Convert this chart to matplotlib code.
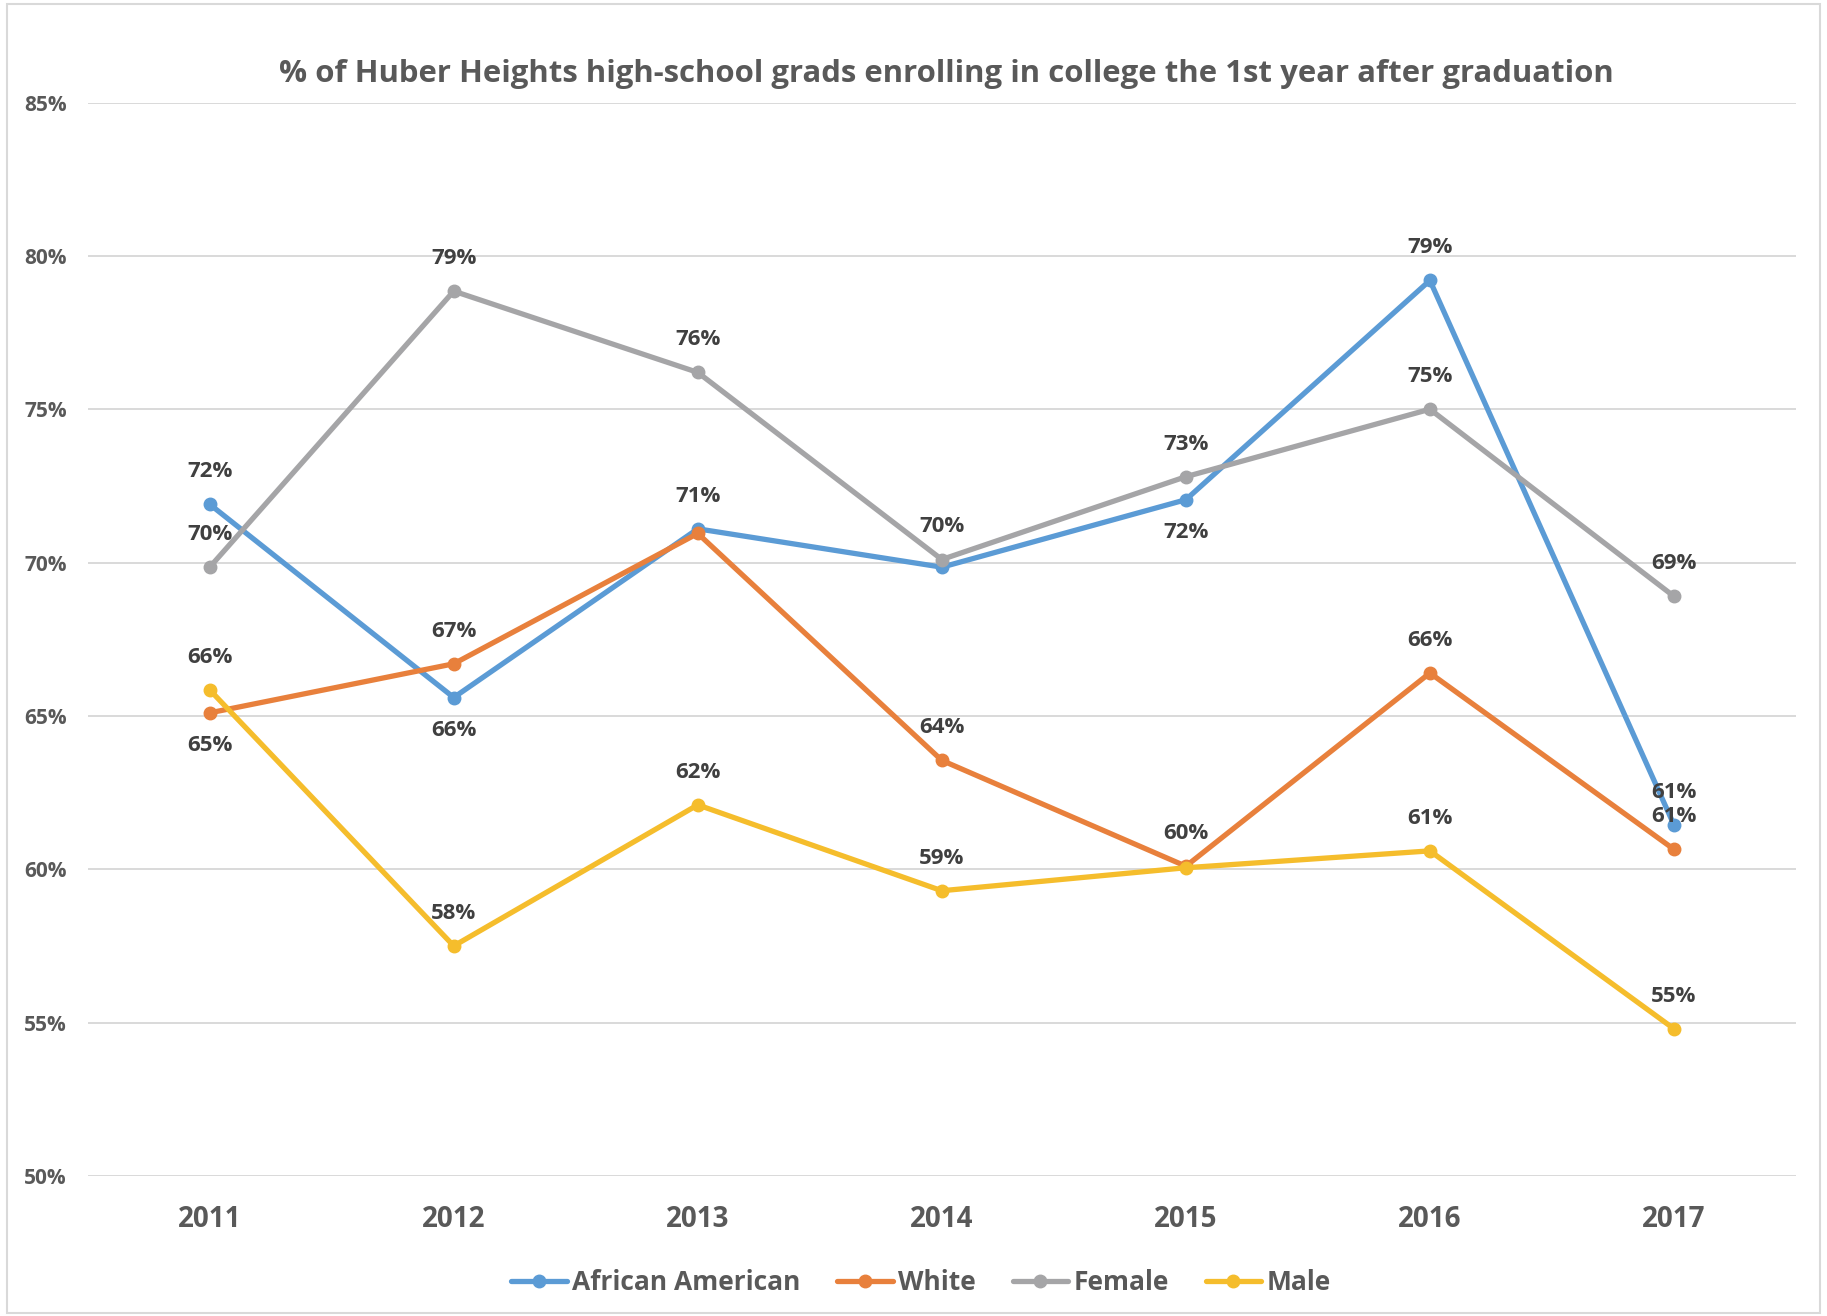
import matplotlib
matplotlib.use("Agg")
import matplotlib.pyplot as plt
from matplotlib.patches import Rectangle
from matplotlib.ticker import PercentFormatter

years = ["2011", "2012", "2013", "2014", "2015", "2016", "2017"]
african_american = [71.9, 65.6, 71.1, 69.85, 72.05, 79.2, 61.45]
white = [65.1, 66.7, 70.95, 63.55, 60.1, 66.4, 60.65]
female = [69.85, 78.85, 76.2, 70.1, 72.8, 75.0, 68.9]
male = [65.85, 57.5, 62.1, 59.3, 60.05, 60.6, 54.8]

# label position per point: +1 above, -1 below, 0 hidden behind another label
aa_pos = [1, -1, 1, 0, -1, 1, 1]
white_pos = [-1, 1, 0, 1, 1, 1, 1]
female_pos = [1, 1, 1, 1, 1, 1, 1]
male_pos = [1, 1, 1, 1, 0, 1, 1]

series = [
    ("African American", african_american, aa_pos, "#5B9BD5"),
    ("White", white, white_pos, "#E8803C"),
    ("Female", female, female_pos, "#A5A5A7"),
    ("Male", male, male_pos, "#F5BD2C"),
]

plt.rcParams["font.family"] = ["Open Sans", "DejaVu Sans"]
plt.rcParams["font.weight"] = "bold"

fig = plt.figure(figsize=(18.27, 13.16), dpi=100, facecolor="white")
ax = fig.add_axes([0.048, 0.1064, 0.935, 0.8157])

x = list(range(len(years)))
for name, vals, pos, col in series:
    ax.plot(x, vals, color=col, lw=3.8, marker="o", ms=9, label=name,
            solid_capstyle="round", zorder=3)
    for xi, v, p in zip(x, vals, pos):
        if p == 0:
            continue
        ax.annotate(f"{round(v):.0f}%", (xi, v), xytext=(0, 23.5 * p),
                    textcoords="offset points", ha="center", va="center",
                    fontsize=16, fontweight="bold", color="#404040", zorder=4)

ax.set_xlim(-0.5, 6.5)
ax.set_ylim(50, 85)
ax.set_yticks([50, 55, 60, 65, 70, 75, 80, 85])
ax.yaxis.set_major_formatter(PercentFormatter(decimals=0))
ax.set_xticks(x)
ax.set_xticklabels(years)
ax.grid(axis="y", color="#D9D9D9", lw=1.4, zorder=0)
for s in ax.spines.values():
    s.set_visible(False)
ax.tick_params(axis="both", length=0)
ax.tick_params(axis="x", labelsize=20, pad=21, labelcolor="#595959")
ax.tick_params(axis="y", labelsize=15, pad=15, labelcolor="#595959")

fig.text(0.518, 0.944, "% of Huber Heights high-school grads enrolling in college the 1st year after graduation",
         ha="center", va="center", fontsize=22.4, fontweight="bold", color="#595959")

leg = fig.legend(loc="center", bbox_to_anchor=(0.504, 0.0253), ncol=4, frameon=False,
                 fontsize=19, handlelength=2.1, handletextpad=0.2, columnspacing=1.4)
for t in leg.get_texts():
    t.set_color("#595959")

fig.patches.append(Rectangle((0.004, 0.002), 0.992, 0.995, transform=fig.transFigure,
                             fill=False, edgecolor="#D9D9D9", lw=1.5))

plt.savefig("out.png", dpi=100, facecolor="white")
